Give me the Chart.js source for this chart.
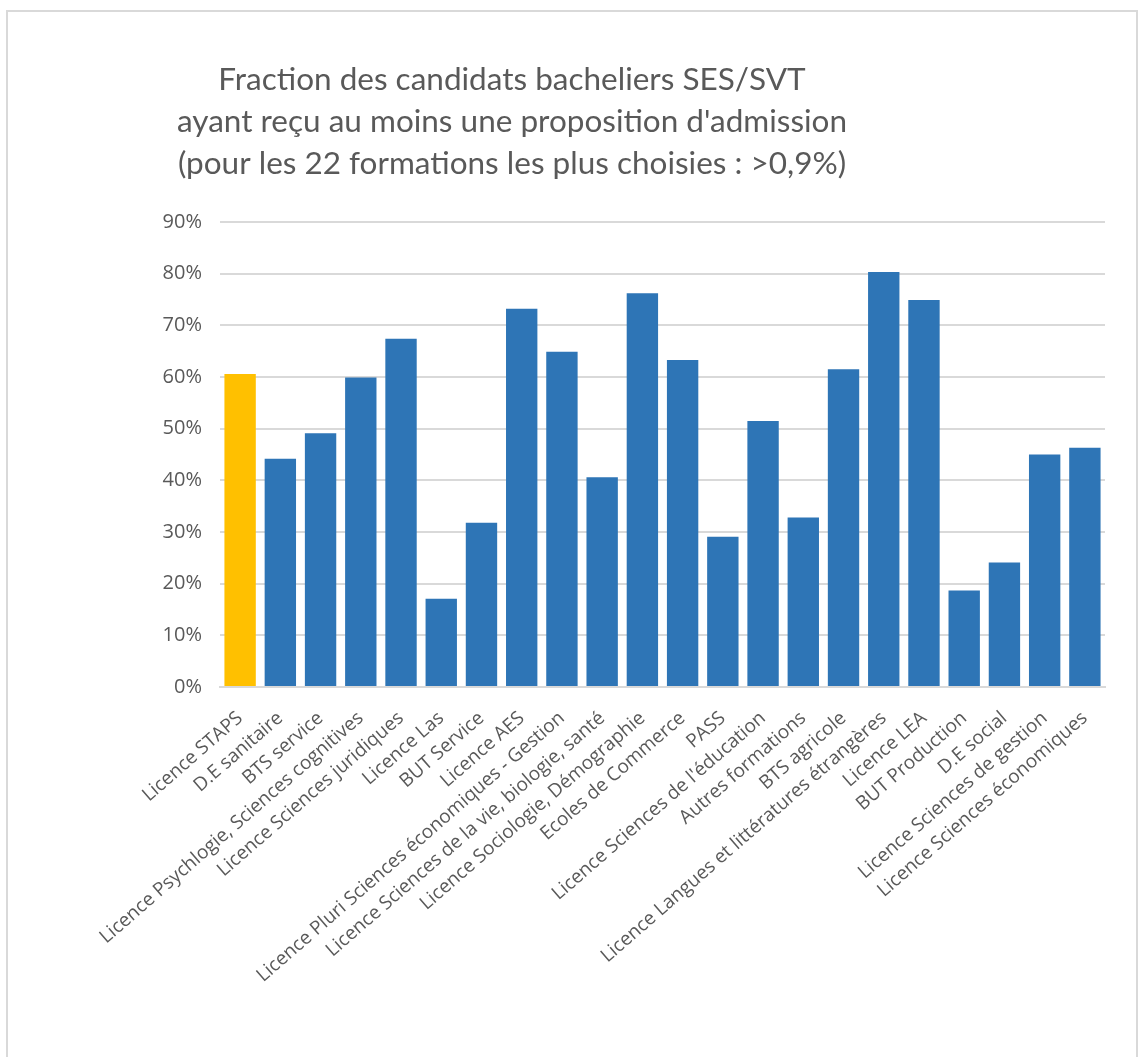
<!DOCTYPE html>
<html>
<head>
<meta charset="utf-8">
<script src="https://cdn.jsdelivr.net/npm/chart.js@4"></script>
<style>
  body { margin: 0; background: #fff; }
  #frame {
    position: absolute; left: 6px; top: 10px; width: 1132px; height: 1060px;
    border: 2px solid #d9d9d9; box-sizing: border-box;
  }
  #myChart { position: absolute; left: 0; top: 0; }
</style>
</head>
<body>
<div id="frame"></div>
<canvas id="myChart" width="1145" height="1057"></canvas>
<script>
const titleLines = [
  "Fraction des candidats bacheliers SES/SVT",
  "ayant reçu au moins une proposition d'admission",
  "(pour les 22 formations les plus choisies : >0,9%)",
];

const formations = [
  "Licence STAPS",
  "D.E sanitaire",
  "BTS service",
  "Licence Psychlogie, Sciences cognitives",
  "Licence Sciences juridiques",
  "Licence Las",
  "BUT Service",
  "Licence AES",
  "Licence Pluri Sciences économiques - Gestion",
  "Licence Sciences de la vie, biologie, santé",
  "Licence Sociologie, Démographie",
  "Ecoles de Commerce",
  "PASS",
  "Licence Sciences de l'éducation",
  "Autres formations",
  "BTS agricole",
  "Licence Langues et littératures étrangères",
  "Licence LEA",
  "BUT Production",
  "D.E social",
  "Licence Sciences de gestion",
  "Licence Sciences économiques",
];

// % of candidates with at least one offer
const fractions = [
  60.6, 44.2, 49.1, 59.9, 67.4, 17.1, 31.8, 73.2, 64.9, 40.6, 76.2,
  63.3, 29.1, 51.5, 32.8, 61.5, 80.3, 74.9, 18.7, 24.1, 45.0, 46.3,
];

const yTicks = [0, 10, 20, 30, 40, 50, 60, 70, 80, 90];

const grey = "#595959";

// title drawn by hand so it can sit left of the canvas centre like the original
const titlePlugin = {
  id: "leftTitle",
  afterDraw(chart) {
    const c = chart.ctx;
    c.save();
    c.fillStyle = grey;
    c.font = "31.5px Lato";
    c.textAlign = "center";
    c.textBaseline = "middle";
    titleLines.forEach((line, i) => c.fillText(line, 512, 80 + i * 42));
    c.restore();
  },
};

function draw() {
  const ctx = document.getElementById("myChart").getContext("2d");
  new Chart(ctx, {
    type: "bar",
    data: {
      labels: formations,
      datasets: [
        {
          label: "Fraction",
          data: fractions,
          backgroundColor: (c) => (c.dataIndex === 0 ? "#FFC000" : "#2E75B6"),
          barPercentage: 0.78,
          categoryPercentage: 1,
        },
      ],
    },
    options: {
      responsive: false,
      animation: false,
      layout: { padding: { top: 222, right: 40, left: 0, bottom: 0 } },
      plugins: {
        legend: { display: false },
        tooltip: { enabled: false },
      },
      scales: {
        x: {
          grid: { display: false },
          border: { color: "#d9d9d9", width: 2 },
          ticks: {
            color: grey,
            font: { family: "'Open Sans'", size: 19 },
            minRotation: 41,
            maxRotation: 41,
            autoSkip: false,
            padding: 12,
          },
          afterFit: (scale) => { scale.height = 1057 - 687; },
        },
        y: {
          min: 0,
          max: 90,
          afterBuildTicks: (scale) => { scale.ticks = yTicks.map((v) => ({ value: v })); },
          grid: { color: "#d9d9d9", lineWidth: 2, drawTicks: false },
          border: { display: false },
          ticks: {
            color: grey,
            font: { family: "'Open Sans'", size: 20 },
            padding: 18,
            callback: (v) => v + "%",
          },
          afterFit: (scale) => { scale.width = 220; },
        },
      },
    },
    plugins: [titlePlugin],
  });
}

Promise.all([
  document.fonts.load("20px 'Open Sans'"),
  document.fonts.load("31px Lato"),
]).then(draw, draw);
</script>
</body>
</html>
